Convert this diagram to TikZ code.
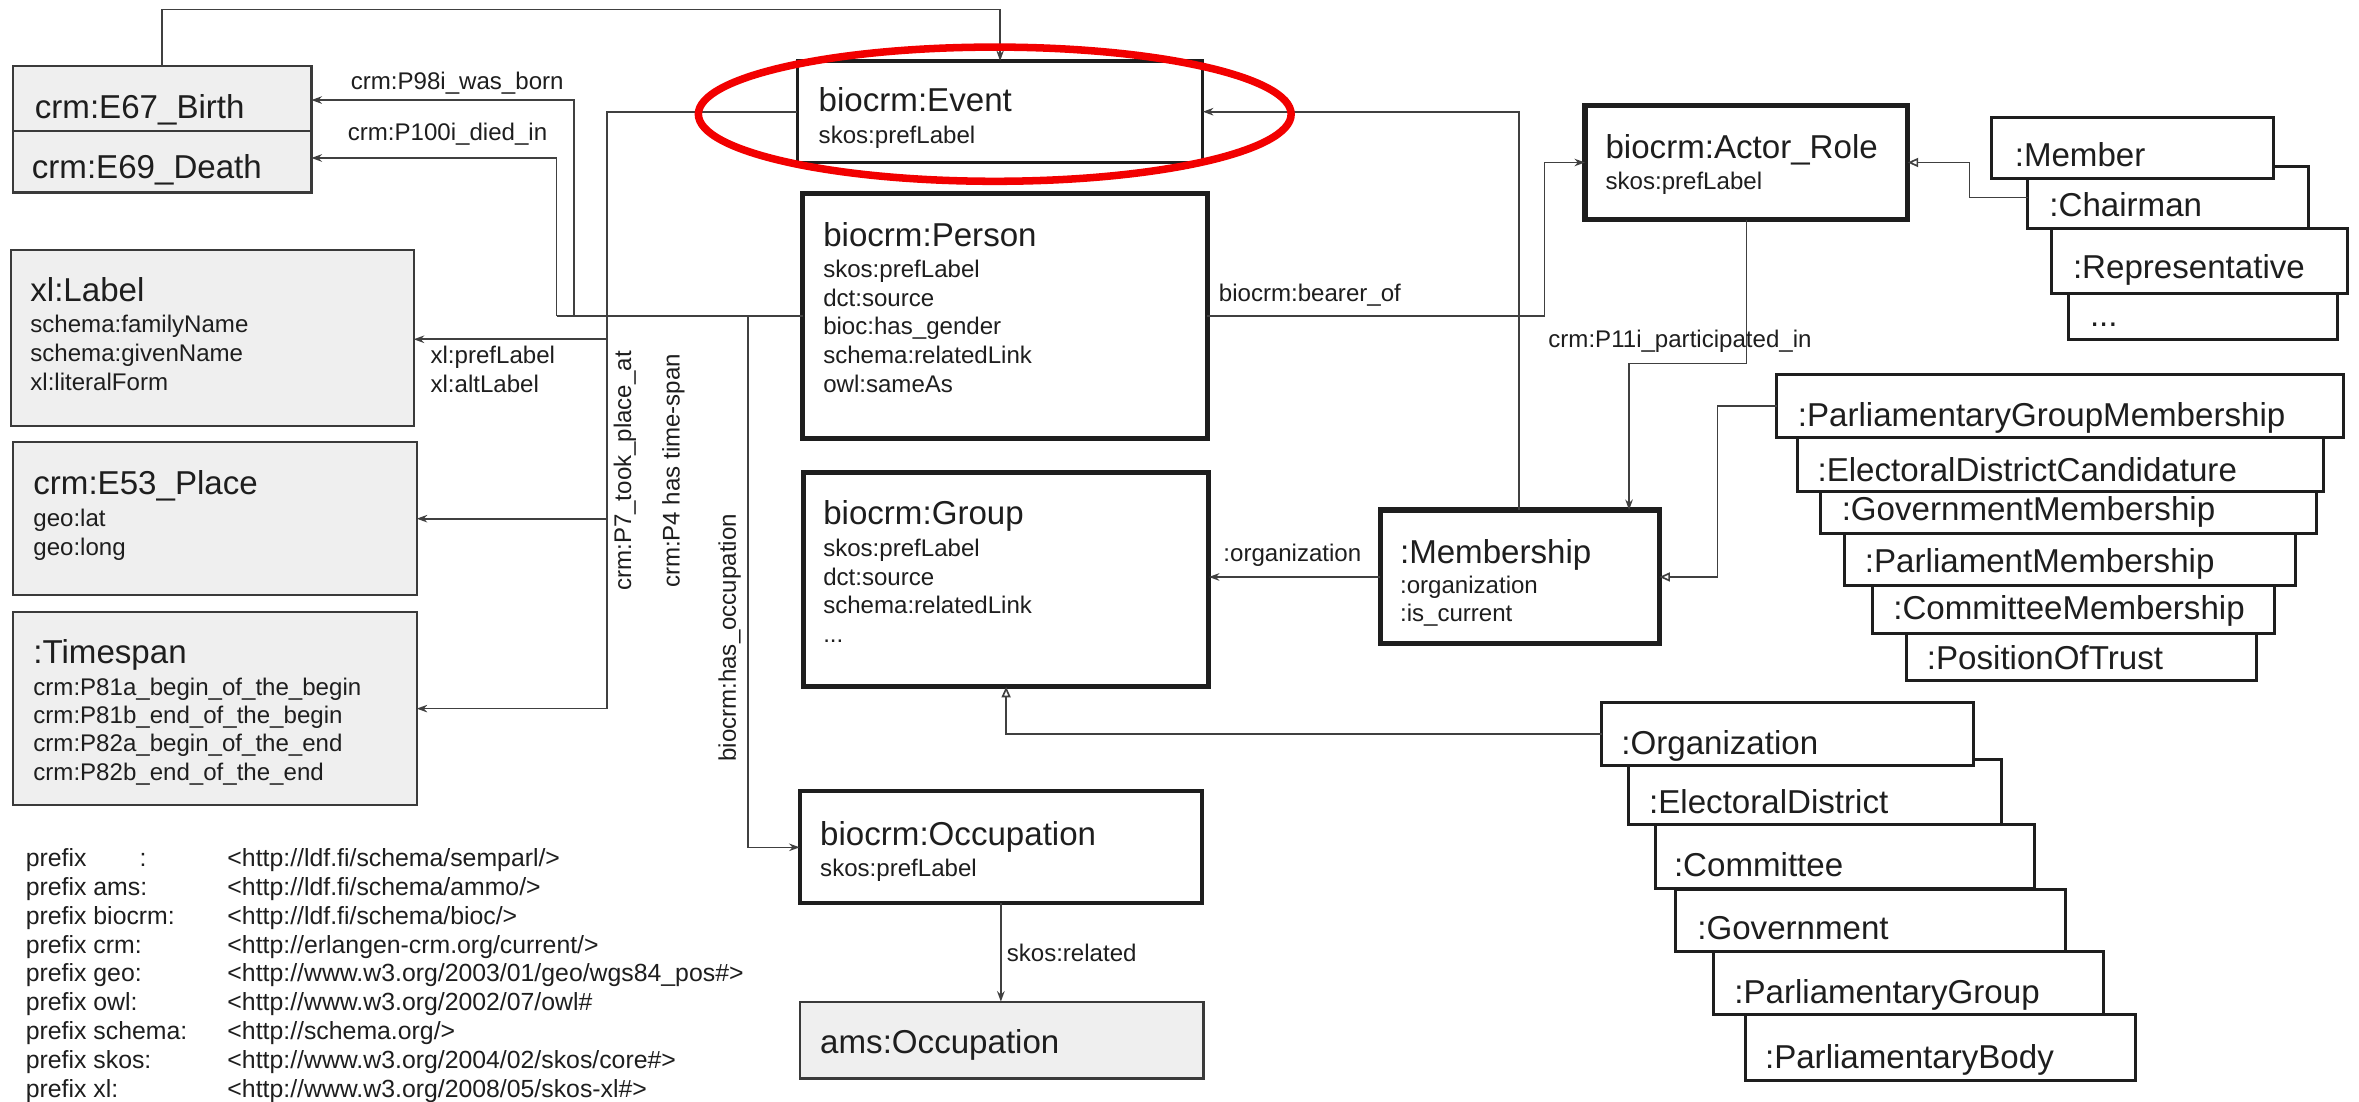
\documentclass[tikz,border=0pt]{standalone}
\usepackage{fontspec}
\setmainfont{Liberation Sans}
\usetikzlibrary{arrows.meta,calc}
\definecolor{ink}{HTML}{1E1E1E}
\definecolor{lineclr}{HTML}{404040}
\definecolor{boxgray}{HTML}{EFEFEF}
\definecolor{gline}{HTML}{3A3A3A}
\definecolor{ovalred}{HTML}{F20000}
\begin{document}
\begin{tikzpicture}[x=1pt,y=-1pt,
  box/.style={rectangle, inner sep=0pt, outer sep=0pt, anchor=north west, draw=ink, fill=white},
  gbox/.style={box, draw=gline, fill=boxgray, line width=1.5pt},
  ebox/.style={box, line width=2.1pt},
  tbox/.style={box, line width=3.4pt},
  sbox/.style={box, line width=2pt},
  ttl/.style={anchor=base west, inner sep=0pt, text=ink, font=\fontsize{22}{24}\selectfont},
  att/.style={anchor=base west, inner sep=0pt, text=ink, font=\fontsize{16}{18}\selectfont},
  elab/.style={att},
  pfx/.style={anchor=base west, inner sep=0pt, text=ink, font=\fontsize{16.5}{18}\selectfont},
  rlab/.style={inner sep=0pt, text=ink, font=\fontsize{16}{18}\selectfont, rotate=90},
  conn/.style={draw=lineclr, line width=1.1pt},
  arr/.style={conn, -{Stealth[length=7pt,width=5pt]}},
  gen/.style={conn, -{Triangle[open,length=7pt,width=6pt]}},
]
\fill[white] (0,0) rectangle (1568,732);
\useasboundingbox (0,0) rectangle (1568,732);

% ---------- gray boxes (left) ----------
\node[gbox, minimum width=198.5pt, minimum height=43pt] (birth) at (8.5,44) {};
\node[gbox, minimum width=198.5pt, minimum height=41pt] (death) at (8.5,87) {};
\node[gbox, minimum width=267.5pt, minimum height=117pt] (xlabel) at (7.5,166) {};
\node[gbox, minimum width=268.5pt, minimum height=101.5pt] (place) at (8.5,294) {};
\node[gbox, minimum width=268.5pt, minimum height=128pt] (timespan) at (8.5,407) {};
\node[gbox, minimum width=268.5pt, minimum height=51pt] (ams) at (531.5,665.8) {};

% ---------- central boxes ----------
\node[ebox, minimum width=269.5pt, minimum height=67.5pt] (event) at (530,40.5) {};
\node[tbox, minimum width=268.8pt, minimum height=162.8pt] (person) at (533.6,128.5) {};
\node[tbox, minimum width=269.5pt, minimum height=142.5pt] (group) at (534,314) {};
\node[ebox, line width=2.6pt, minimum width=267.5pt, minimum height=74.4pt] (occupation) at (531.5,526) {};
\node[tbox, minimum width=214.5pt, minimum height=76pt] (actor) at (1053.5,70) {};
\node[tbox, minimum width=185.7pt, minimum height=89pt] (membership) at (917.3,339) {};

% ---------- role stack ----------
\node[sbox, minimum width=178.8pt, minimum height=30.5pt] (rdots) at (1375,195) {};
\node[sbox, minimum width=197.1pt, minimum height=43.2pt] (rep) at (1363.3,151.8) {};
\node[sbox, minimum width=186.8pt, minimum height=41pt] (chairman) at (1347.7,110.8) {};
\node[sbox, minimum width=187pt, minimum height=40.5pt] (member) at (1324,78) {};

% ---------- membership stack ----------
\node[sbox, minimum width=233.1pt, minimum height=31.2pt] (pot) at (1266.9,420.8) {};
\node[sbox, minimum width=267.4pt, minimum height=31.8pt] (cm) at (1244.6,389) {};
\node[sbox, minimum width=300.1pt, minimum height=34.3pt] (pm) at (1225.7,354.7) {};
\node[sbox, minimum width=329.6pt, minimum height=28pt] (govm) at (1210,326.7) {};
\node[sbox, minimum width=349.7pt, minimum height=35.7pt] (edc) at (1195,291) {};
\node[sbox, minimum width=377pt, minimum height=42pt] (pgm) at (1181,249) {};

% ---------- organization stack ----------
\node[sbox, minimum width=259.5pt, minimum height=43.7pt] (pb) at (1160,674.6) {};
\node[sbox, minimum width=259pt, minimum height=42pt] (pg) at (1139,632.6) {};
\node[sbox, minimum width=259.7pt, minimum height=41.6pt] (gov) at (1113.5,591) {};
\node[sbox, minimum width=252.1pt, minimum height=42.1pt] (com) at (1100.5,548.3) {};
\node[sbox, minimum width=247.6pt, minimum height=42.7pt] (ed) at (1082.7,505) {};
\node[sbox, minimum width=247.5pt, minimum height=41.5pt] (org) at (1064.5,467) {};

% ---------- helper coordinates ----------
\coordinate (xB) at (381.5,0);
\coordinate (xD) at (370,0);
\coordinate (xE) at (403.5,0);
\coordinate (xO) at (497,0);
\coordinate (xBe) at (1026.5,0);
\coordinate (xM) at (1009.6,0);
\coordinate (xP) at (1082.8,0);
\coordinate (yP) at (0,241.6);
\coordinate (xG) at (1141.7,0);
\coordinate (xAG) at (1309,0);
\coordinate (yTop) at (0,6.2);

% ---------- connectors ----------
\draw[arr] (birth.north) |- (event.north |- yTop) -- (event.north);
\draw[conn] (person.west) -- (person.west -| xD);
\draw[arr] (person.west -| xB) |- ($(birth.east)+(0,1)$);
\draw[arr] (person.west -| xD) |- ($(death.east)+(0,-2.5)$);
\draw[arr] (event.west) -| (xE |- timespan.east) -- (timespan.east);
\draw[arr] (place.east -| xE) -- (place.east);
\draw[arr] ($(xlabel.east -| xE)+(0,1)$) -- ($(xlabel.east)+(0,1)$);
\draw[arr] (person.west -| xO) |- (occupation.west);
\draw[arr] (person.east) -| (xBe |- actor.west) -- (actor.west);
\draw[arr] (membership.north -| xM) |- (event.east);
\draw[arr] (actor.south) -- (actor.south |- yP) -| (membership.north -| xP);
\draw[arr] (membership.west) -- (group.east |- membership.west);
\draw[gen] (pgm.west) -| (xG |- membership.east) -- (membership.east);
\draw[gen] (org.west) -| (group.south);
\draw[gen] (chairman.west) -| (xAG |- actor.east) -- (actor.east);
\draw[arr] (occupation.south) -- (occupation.south |- ams.north);

% ---------- connector labels ----------
\node[elab] (lborn) at (233,59.6) {crm:P98i\_was\_born};
\node[elab] (ldied) at (231,93.1) {crm:P100i\_died\_in};
\node[elab] (lpref) at (286,241.6) {xl:prefLabel};
\node[elab] (lalt) at (286,260.6) {xl:altLabel};
\node[rlab] (lp7) at (415.4,313) {crm:P7\_took\_place\_at};
\node[rlab] (lp4) at (447.6,313) {crm:P4 has time-span};
\node[rlab] (locc) at (485,424) {biocrm:has\_occupation};
\node[elab] (lbear) at (810,200.1) {biocrm:bearer\_of};
\node[elab] (lp11) at (1029,231.1) {crm:P11i\_participated\_in};
\node[elab] (lorg) at (813,373.3) {:organization};
\node[elab] (lrel) at (669,639.2) {skos:related};

% ---------- box texts ----------
\node[ttl] (tbirth) at (23,78.7) {crm:E67\_Birth};
\node[ttl] (tdeath) at (21,118.7) {crm:E69\_Death};

\node[ttl] (txl) at (20,200.7) {xl:Label};
\node[att] (txl1) at (20,221) {schema:familyName};
\node[att] (txl2) at (20,240.6) {schema:givenName};
\node[att] (txl3) at (20,259.3) {xl:literalForm};

\node[ttl] (tpl) at (22,328.7) {crm:E53\_Place};
\node[att] (tpl1) at (22,350.2) {geo:lat};
\node[att] (tpl2) at (22,369) {geo:long};

\node[ttl] (tts) at (22,440.7) {:Timespan};
\node[att] (tts1) at (22,462.1) {crm:P81a\_begin\_of\_the\_begin};
\node[att] (tts2) at (22,480.9) {crm:P81b\_end\_of\_the\_begin};
\node[att] (tts3) at (22,499.8) {crm:P82a\_begin\_of\_the\_end};
\node[att] (tts4) at (22,518.6) {crm:P82b\_end\_of\_the\_end};

\node[ttl] (tev) at (544,74.2) {biocrm:Event};
\node[att] (tev1) at (544,95.6) {skos:prefLabel};

\node[ttl] (tpe) at (547,163.7) {biocrm:Person};
\node[att] (tpe1) at (547,184.6) {skos:prefLabel};
\node[att] (tpe2) at (547,203.6) {dct:source};
\node[att] (tpe3) at (547,222.6) {bioc:has\_gender};
\node[att] (tpe4) at (547,241.6) {schema:relatedLink};
\node[att] (tpe5) at (547,260.6) {owl:sameAs};

\node[ttl] (tgr) at (547,348.7) {biocrm:Group};
\node[att] (tgr1) at (547,370.1) {skos:prefLabel};
\node[att] (tgr2) at (547,389) {dct:source};
\node[att] (tgr3) at (547,407.8) {schema:relatedLink};
\node[att] (tgr4) at (547,426.8) {...};

\node[ttl] (toc) at (545,561.7) {biocrm:Occupation};
\node[att] (toc1) at (545,582.6) {skos:prefLabel};

\node[ttl] (tams) at (545,700.1) {ams:Occupation};

\node[ttl] (tac) at (1067,105.4) {biocrm:Actor\_Role};
\node[att] (tac1) at (1067,126.2) {skos:prefLabel};

\node[ttl] (tme) at (930.4,374.4) {:Membership};
\node[att] (tme1) at (930.4,394.5) {:organization};
\node[att] (tme2) at (930.4,413.3) {:is\_current};

\node[ttl] (tmember) at (1339,110.8) {:Member};
\node[ttl] (tchair) at (1362,143.6) {:Chairman};
\node[ttl] (trep) at (1377.7,185) {:Representative};
\node[ttl] (trdots) at (1389,217) {...};

\node[ttl] (tpgm) at (1194.8,283.5) {:ParliamentaryGroupMembership};
\node[ttl] (tedc) at (1207.9,319.9) {:ElectoralDistrictCandidature};
\node[ttl] (tgovm) at (1224,345.8) {:GovernmentMembership};
\node[ttl] (tpm) at (1239.4,380.2) {:ParliamentMembership};
\node[ttl] (tcm) at (1258.3,412) {:CommitteeMembership};
\node[ttl] (tpot) at (1280.6,445) {:PositionOfTrust};

\node[ttl] (torg) at (1077.5,501.7) {:Organization};
\node[ttl] (ted) at (1096,540.5) {:ElectoralDistrict};
\node[ttl] (tcom) at (1112.5,582.7) {:Committee};
\node[ttl] (tgov) at (1128,624.7) {:Government};
\node[ttl] (tpg) at (1152.6,666.7) {:ParliamentaryGroup};
\node[ttl] (tpb) at (1173,710) {:ParliamentaryBody};

% ---------- prefix list ----------
\node[pfx] (pf1) at (17,576.1) {prefix};
\node[pfx] (pf1c) at (92.6,576.1) {:};
\node[pfx] (pu1) at (151,576.1) {<http://ldf.fi/schema/semparl/>};
\node[pfx] (pf2) at (17,595.25) {prefix ams:};
\node[pfx] (pu2) at (151,595.25) {<http://ldf.fi/schema/ammo/>};
\node[pfx] (pf3) at (17,614.4) {prefix biocrm:};
\node[pfx] (pu3) at (151,614.4) {<http://ldf.fi/schema/bioc/>};
\node[pfx] (pf4) at (17,633.55) {prefix crm:};
\node[pfx] (pu4) at (151,633.55) {<http://erlangen-crm.org/current/>};
\node[pfx] (pf5) at (17,652.7) {prefix geo:};
\node[pfx] (pu5) at (151,652.7) {<http://www.w3.org/2003/01/geo/wgs84\_pos\#>};
\node[pfx] (pf6) at (17,671.85) {prefix owl:};
\node[pfx] (pu6) at (151,671.85) {<http://www.w3.org/2002/07/owl\#};
\node[pfx] (pf7) at (17,691) {prefix schema:};
\node[pfx] (pu7) at (151,691) {<http://schema.org/>};
\node[pfx] (pf8) at (17,710.15) {prefix skos:};
\node[pfx] (pu8) at (151,710.15) {<http://www.w3.org/2004/02/skos/core\#>};
\node[pfx] (pf9) at (17,729.3) {prefix xl:};
\node[pfx] (pu9) at (151,729.3) {<http://www.w3.org/2008/05/skos-xl\#>};

% ---------- red highlight ----------
\draw[ovalred, line width=5pt] (661.2,75.9) ellipse [x radius=197, y radius=44.6];
\end{tikzpicture}
\end{document}
